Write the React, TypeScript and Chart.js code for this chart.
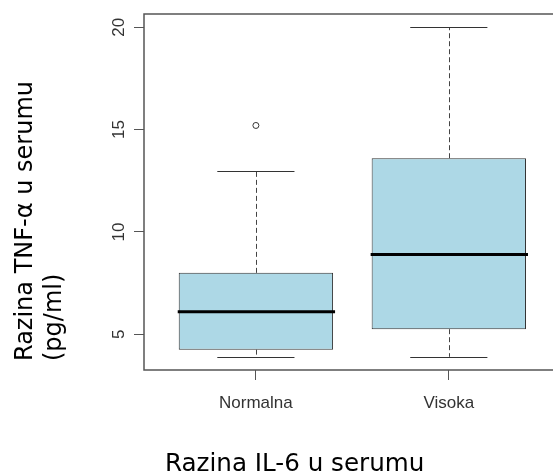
import React, { useEffect, useRef } from "react";
import { Chart, registerables } from "chart.js";

Chart.register(...registerables);

const categories = ["Normalna", "Visoka"];
const whiskerLow = [3.9, 3.9];
const q1 = [4.25, 5.25];
const median = [6.1, 8.9];
const q3 = [8.0, 13.6];
const whiskerHigh = [13.0, 20.0];
const outliers = [[15.2], []];
const yTicks = [5, 10, 15, 20];
const yTitleLines = ["Razina TNF-α u serumu", "(pg/ml)"];
const xTitle = "Razina IL-6 u serumu";

const allValues = [...whiskerLow, ...whiskerHigh, ...outliers.flat()];
const dataMin = Math.min(...allValues);
const dataMax = Math.max(...allValues);
const pad = (dataMax - dataMin) * 0.04;

const BOX_HALF = 0.4;
const CAP_HALF = 0.2;

const boxplotPlugin = {
  id: "boxplotExtras",
  afterDatasetsDraw(chart: any) {
    const { ctx, scales } = chart;
    const xs = scales.x;
    const ys = scales.y;
    ctx.save();
    categories.forEach((_, i) => {
      const cx = i + 1;
      const px = Math.round(xs.getPixelForValue(cx)) + 0.5;
      // whiskers (dashed)
      ctx.strokeStyle = "#444";
      ctx.lineWidth = 1;
      ctx.setLineDash([5, 3]);
      ctx.beginPath();
      ctx.moveTo(px, ys.getPixelForValue(q3[i]));
      ctx.lineTo(px, ys.getPixelForValue(whiskerHigh[i]));
      ctx.moveTo(px, ys.getPixelForValue(q1[i]));
      ctx.lineTo(px, ys.getPixelForValue(whiskerLow[i]));
      ctx.stroke();
      ctx.setLineDash([]);
      // caps
      ctx.strokeStyle = "#333";
      ctx.beginPath();
      [whiskerHigh[i], whiskerLow[i]].forEach((v) => {
        const py = Math.round(ys.getPixelForValue(v)) + 0.5;
        ctx.moveTo(xs.getPixelForValue(cx - CAP_HALF), py);
        ctx.lineTo(xs.getPixelForValue(cx + CAP_HALF), py);
      });
      ctx.stroke();
      // median
      ctx.strokeStyle = "#000";
      ctx.lineWidth = 3;
      ctx.beginPath();
      const my = ys.getPixelForValue(median[i]);
      ctx.moveTo(xs.getPixelForValue(cx - BOX_HALF) - 1, my);
      ctx.lineTo(xs.getPixelForValue(cx + BOX_HALF) + 2, my);
      ctx.stroke();
    });
    ctx.restore();
  },
  afterDraw(chart: any) {
    const { ctx, chartArea, scales, width } = chart;
    const ys = scales.y;
    ctx.save();
    // frame (top, left, bottom)
    ctx.strokeStyle = "#555";
    ctx.lineWidth = 1.5;
    ctx.beginPath();
    ctx.moveTo(width, chartArea.top);
    ctx.lineTo(chartArea.left, chartArea.top);
    ctx.lineTo(chartArea.left, chartArea.bottom);
    ctx.lineTo(width, chartArea.bottom);
    ctx.stroke();
    // y tick labels (rotated)
    ctx.fillStyle = "#333";
    ctx.font = "17px 'Liberation Sans', Arial, sans-serif";
    ctx.textAlign = "center";
    ctx.textBaseline = "alphabetic";
    ys.ticks.forEach((t: any) => {
      const py = ys.getPixelForValue(t.value);
      ctx.save();
      ctx.translate(124, py);
      ctx.rotate(-Math.PI / 2);
      ctx.fillText(String(t.value), 0, 0);
      ctx.restore();
    });
    // axis titles
    ctx.fillStyle = "#000";
    ctx.font = "24px 'DejaVu Sans', Verdana, sans-serif";
    ctx.textAlign = "left";
    yTitleLines.forEach((line, k) => {
      ctx.save();
      ctx.translate(32 + k * 29, 361);
      ctx.rotate(-Math.PI / 2);
      ctx.fillText(line, 0, 0);
      ctx.restore();
    });
    ctx.font = "24.6px 'DejaVu Sans', Verdana, sans-serif";
    ctx.fillText(xTitle, 165, 471);
    ctx.restore();
  },
};

export default function App() {
  const ref = useRef<HTMLCanvasElement>(null);
  useEffect(() => {
    if (!ref.current) return;
    const chart = new Chart(ref.current, {
      type: "bar",
      data: {
        datasets: [
          {
            type: "bar",
            data: categories.map((_, i) => ({ x: i + 1, y: [q1[i], q3[i]] })) as any,
            backgroundColor: "#ADD8E6",
            borderColor: "#333",
            borderWidth: 1,
            borderSkipped: false,
            categoryPercentage: 1,
            barPercentage: 2 * BOX_HALF,
          },
          {
            type: "scatter",
            data: outliers.flatMap((arr, i) => arr.map((v) => ({ x: i + 1, y: v }))) as any,
            pointStyle: "circle",
            pointRadius: 3,
            backgroundColor: "rgba(255,255,255,0)",
            borderColor: "#333",
            borderWidth: 1,
          },
        ],
      },
      options: {
        animation: false,
        responsive: false,
        devicePixelRatio: 1,
        layout: { autoPadding: false, padding: { top: 14, left: 0, right: 0, bottom: 0 } },
        plugins: { legend: { display: false }, tooltip: { enabled: false } },
        scales: {
          x: {
            type: "linear",
            offset: false,
            min: 0.42,
            max: 2.54,
            afterBuildTicks: (s: any) => {
              s.ticks = categories.map((_, i) => ({ value: i + 1 }));
            },
            afterFit: (s: any) => {
              s.height = 105;
              s.paddingLeft = 0;
              s.paddingRight = 0;
            },
            border: { display: false },
            grid: {
              offset: false,
              display: true,
              drawOnChartArea: false,
              drawTicks: true,
              tickLength: 10,
              color: "#555",
              lineWidth: 1,
            },
            ticks: {
              autoSkip: false,
              maxRotation: 0,
              padding: 13,
              color: "#333",
              font: { family: "'Liberation Sans', Arial, sans-serif", size: 17 },
              callback: (v: any) => categories[Math.round(v) - 1] ?? "",
            },
          },
          y: {
            type: "linear",
            min: dataMin - pad,
            max: dataMax + pad,
            afterBuildTicks: (s: any) => {
              s.ticks = yTicks.map((v) => ({ value: v }));
            },
            afterFit: (s: any) => {
              s.width = 144;
              s.paddingTop = 0;
              s.paddingBottom = 0;
            },
            border: { display: false },
            grid: {
              display: true,
              drawOnChartArea: false,
              drawTicks: true,
              tickLength: 10,
              color: "#555",
              lineWidth: 1,
            },
            ticks: { display: false },
          },
        },
      },
      plugins: [boxplotPlugin],
    });
    return () => chart.destroy();
  }, []);
  return (
    <div style={{ position: "fixed", left: 0, top: 0, width: 553, height: 475, background: "#fff" }}>
      <canvas ref={ref} width={553} height={475} />
    </div>
  );
}
